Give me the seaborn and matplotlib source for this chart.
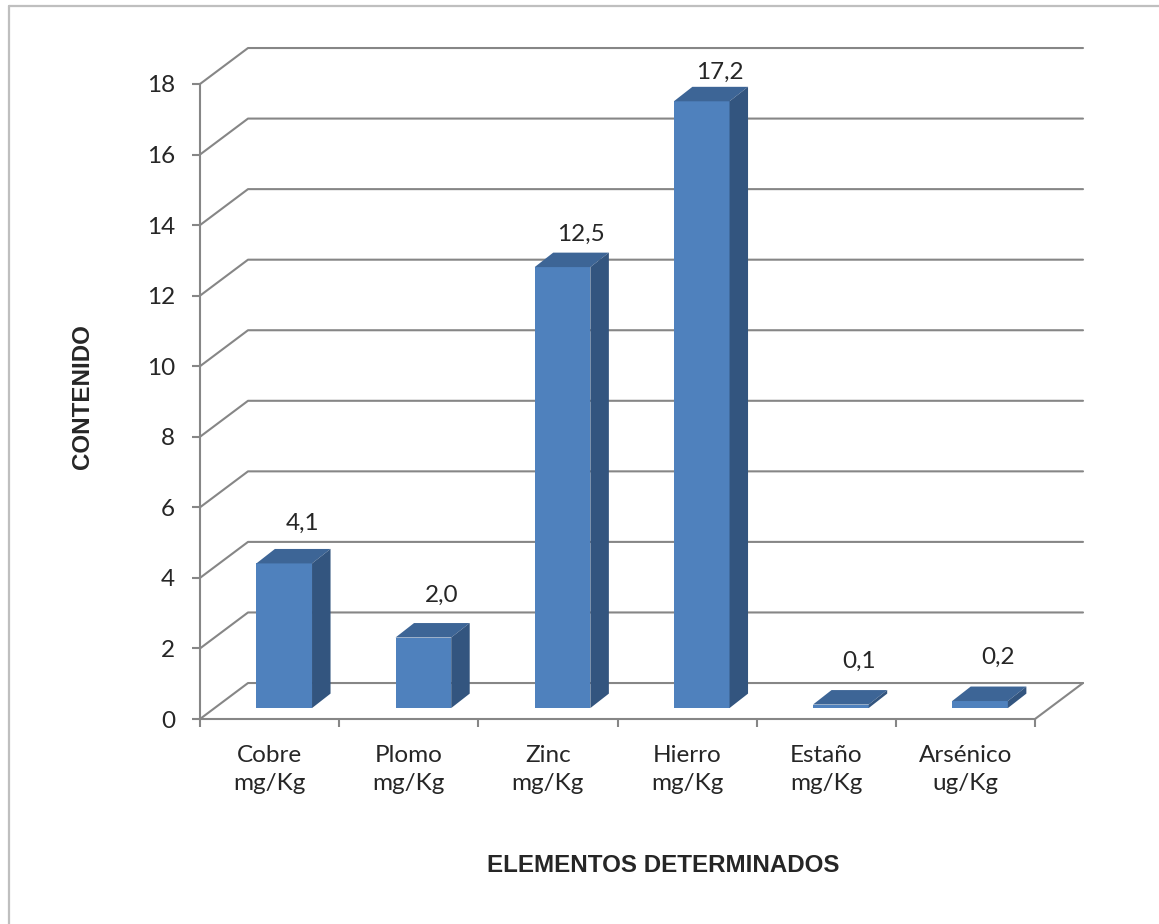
import matplotlib
matplotlib.use('Agg')
import matplotlib.pyplot as plt
from matplotlib.patches import Polygon
from matplotlib.lines import Line2D
import seaborn as sns

# datos del grafico
elementos = ['Cobre\nmg/Kg', 'Plomo\nmg/Kg', 'Zinc\nmg/Kg', 'Hierro\nmg/Kg', 'Estaño\nmg/Kg', 'Arsénico\nug/Kg']
contenido = [4.1, 2.0, 12.5, 17.2, 0.1, 0.2]
etiquetas = ['4,1', '2,0', '12,5', '17,2', '0,1', '0,2']
y_ticks = list(range(0, 19, 2))

sns.set_style('white')
plt.rcParams['font.family'] = ['Lato', 'DejaVu Sans']

W, H = 1159, 924
fig = plt.figure(figsize=(W / 100, H / 100), dpi=100)
ax = fig.add_axes([200 / W, (H - 719) / H, 835 / W, 635 / H])

gris = '#868686'
frente, arriba, lado = '#4F81BD', '#3D6596', '#33557F'

# profundidad del "3D" en unidades de datos
BX, BY = 0.345, 1.02      # pared del fondo
FX, FY = 0.105, 0.31      # desplazamiento de la cara frontal de la barra
DX, DY = 0.133, 0.41      # profundidad de la barra

sns.barplot(x=elementos, y=contenido, width=0.4, color=frente, saturation=1,
            ax=ax, zorder=3, edgecolor='none')

ax.set_xlim(-0.5, 5.5)
ax.set_ylim(0, 18)

# lineas de la cuadricula (pared del fondo + diagonales)
for v in y_ticks:
    ax.plot([-0.5, -0.5 + BX, 5.5 + BX], [v, v + BY, v + BY],
            color=gris, lw=1.5, clip_on=False, zorder=1)
ax.plot([5.5, 5.5 + BX], [0, BY], color=gris, lw=1.5, clip_on=False, zorder=1)

# caras superior y lateral de cada barra
for p, txt, v in zip(ax.patches, etiquetas, contenido):
    p.set_x(p.get_x() + FX)
    p.set_y(p.get_y() + FY)
    x0, y0 = p.get_x(), p.get_y()
    x1, y1 = x0 + p.get_width(), y0 + p.get_height()
    ax.add_patch(Polygon([(x0, y1), (x1, y1), (x1 + DX, y1 + DY), (x0 + DX, y1 + DY)],
                         closed=True, facecolor=arriba, edgecolor='none', zorder=3))
    ax.add_patch(Polygon([(x1, y0), (x1, y1), (x1 + DX, y1 + DY), (x1 + DX, y0 + DY)],
                         closed=True, facecolor=lado, edgecolor='none', zorder=3))
    cx = (x0 + x1) / 2 + 0.13
    ax.text(cx, v * 0.975 + 1.55, txt, ha='center', va='center', fontsize=17.5, zorder=4)

# ejes
for s in ['top', 'right']:
    ax.spines[s].set_visible(False)
for s in ['left', 'bottom']:
    ax.spines[s].set_color(gris)
    ax.spines[s].set_linewidth(1.5)
    ax.spines[s].set_zorder(2)

ax.set_yticks(y_ticks)
ax.set_yticklabels([str(t) for t in y_ticks], fontsize=17.5)
ax.tick_params(axis='y', length=6, width=1.5, color=gris, pad=12, direction='out', left=True)

ax.set_xticks([i - 0.5 for i in range(len(elementos) + 1)])
ax.set_xticklabels([])
ax.set_xticks(range(len(elementos)), minor=True)
ax.set_xticklabels(elementos, minor=True, fontsize=17.5, linespacing=1.4)
ax.tick_params(axis='x', which='major', length=6, width=1.5, color=gris, direction='out', bottom=True)
ax.tick_params(axis='x', which='minor', length=0, pad=19)
ax.set_xlabel('')
ax.set_ylabel('')

# titulos de los ejes
fig.text(82 / W, 1 - 397 / H, 'CONTENIDO', rotation=90, ha='center', va='center',
         fontsize=17.4, fontweight='bold', family='Liberation Sans')
fig.text(663 / W, 1 - 866 / H, 'ELEMENTOS DETERMINADOS', ha='center', va='center',
         fontsize=17.4, fontweight='bold', family='Liberation Sans')

# borde del area del grafico
fig.add_artist(Line2D([8.5 / W, 8.5 / W], [0, 1 - 6 / H], color='#BFBFBF', lw=1.6))
fig.add_artist(Line2D([8.5 / W, 1], [1 - 6 / H, 1 - 6 / H], color='#BFBFBF', lw=1.6))

fig.savefig('out.png', dpi=100)
